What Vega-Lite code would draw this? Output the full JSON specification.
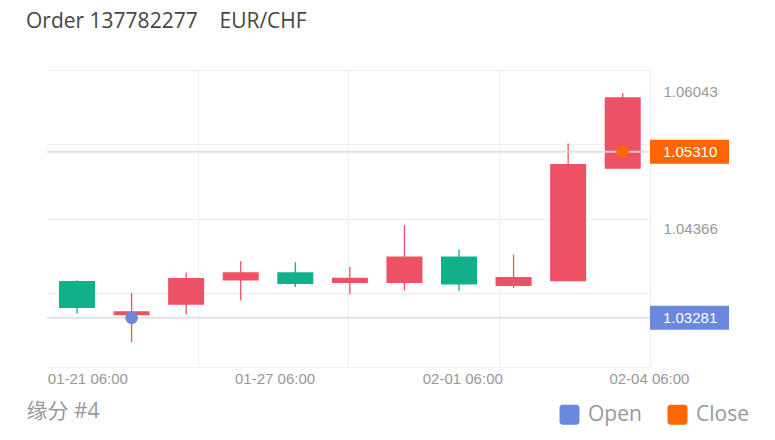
{
  "$schema": "https://vega.github.io/schema/vega-lite/v6.json",
  "width": 603,
  "height": 297,
  "autosize": "none",
  "padding": {"left": 47, "top": 70, "right": 125, "bottom": 73},
  "background": "#ffffff",
  "view": {"stroke": null},
  "title": {
    "text": "Order 137782277\u00a0\u00a0\u00a0\u00a0EUR/CHF",
    "anchor": "start",
    "frame": "group",
    "dx": -21,
    "offset": 31,
    "font": "Open Sans",
    "fontSize": 21,
    "fontWeight": "normal",
    "color": "#464646"
  },
  "datasets": {
    "candles": [
      {"t": 0, "open": 1.03730, "high": 1.03738, "low": 1.03331, "close": 1.03399},
      {"t": 1, "open": 1.03310, "high": 1.03583, "low": 1.02983, "close": 1.03359},
      {"t": 2, "open": 1.03441, "high": 1.03833, "low": 1.03322, "close": 1.03766},
      {"t": 3, "open": 1.03735, "high": 1.03971, "low": 1.03493, "close": 1.03836},
      {"t": 4, "open": 1.03836, "high": 1.03959, "low": 1.03656, "close": 1.03693},
      {"t": 5, "open": 1.03705, "high": 1.03901, "low": 1.03567, "close": 1.03771},
      {"t": 6, "open": 1.03705, "high": 1.04411, "low": 1.03616, "close": 1.04028},
      {"t": 7, "open": 1.04028, "high": 1.04114, "low": 1.03607, "close": 1.03686},
      {"t": 8, "open": 1.03668, "high": 1.04053, "low": 1.03644, "close": 1.03779},
      {"t": 9, "open": 1.03726, "high": 1.05411, "low": 1.03726, "close": 1.05158},
      {"t": 10, "open": 1.05101, "high": 1.06025, "low": 1.05101, "close": 1.05974}
    ],
    "marks": [
      {"kind": "Open", "t": 1, "price": 1.03281},
      {"kind": "Close", "t": 10, "price": 1.05310}
    ]
  },
  "layer": [
    {
      "data": {"name": "candles"},
      "mark": {"type": "rule", "strokeWidth": 1.3},
      "encoding": {
        "x": {
          "field": "t",
          "type": "quantitative",
          "title": "缘分 #4",
          "scale": {"domain": [-0.55, 10.5], "nice": false, "zero": false, "padding": 0},
          "axis": {
            "values": [2.2125, 4.975, 7.7375, 10.5, 0.19, 3.62, 7.06, 10.48],
            "labelExpr": "datum.value == 0.19 ? '01-21 06:00' : datum.value == 3.62 ? '01-27 06:00' : datum.value == 7.06 ? '02-01 06:00' : datum.value == 10.48 ? '02-04 06:00' : ''",
            "grid": true,
            "gridColor": "#efefef",
            "gridWidth": 1,
            "gridOpacity": {"condition": {"test": "datum.value == 0.19 || datum.value == 3.62 || datum.value == 7.06 || datum.value == 10.48", "value": 0}, "value": 1},
            "domain": false,
            "ticks": false,
            "tickSize": 0,
            "labelFont": "Liberation Sans",
            "labelFontSize": 15,
            "labelColor": "#999999",
            "labelPadding": 4,
            "labelAlign": "center",
            "labelBaseline": "top",
            "labelOverlap": false,
            "labelBound": false,
            "labelFlush": false,
            "titleX": -21,
            "titleY": 44,
            "titleAlign": "left",
            "titleBaseline": "middle",
            "titleFont": "Open Sans, Noto Sans CJK SC",
            "titleFontSize": 21,
            "titleFontWeight": "normal",
            "titleColor": "#999999"
          }
        },
        "y": {
          "field": "low",
          "type": "quantitative",
          "title": null,
          "scale": {"domain": [1.02679, 1.06308], "nice": false, "zero": false, "padding": 0},
          "axis": {
            "orient": "right",
            "values": [1.02679, 1.035863, 1.044935, 1.054008, 1.06308, 1.04366, 1.06043],
            "labelExpr": "(datum.value == 1.04366 || datum.value == 1.06043) ? format(datum.value, '.5f') : ''",
            "grid": true,
            "gridColor": "#efefef",
            "gridWidth": 1,
            "gridOpacity": {"condition": {"test": "datum.value == 1.04366 || datum.value == 1.06043", "value": 0}, "value": 1},
            "domain": false,
            "ticks": false,
            "tickSize": 0,
            "labelPadding": 13,
            "labelFont": "Liberation Sans",
            "labelFontSize": 15,
            "labelColor": "#999999",
            "labelAlign": "left",
            "labelBaseline": "middle",
            "labelOverlap": false,
            "labelBound": false,
            "labelFlush": false
          }
        },
        "y2": {"field": "high"},
        "color": {"condition": {"test": "datum.close > datum.open", "value": "#EC5166"}, "value": "#10B08A"}
      }
    },
    {
      "data": {"name": "candles"},
      "mark": {"type": "bar"},
      "encoding": {
        "x": {"field": "t", "type": "quantitative", "title": "缘分 #4"},
        "y": {"field": "open", "type": "quantitative", "title": null},
        "y2": {"field": "close"},
        "size": {"value": 36},
        "color": {"condition": {"test": "datum.close > datum.open", "value": "#EC5166"}, "value": "#10B08A"}
      }
    },
    {
      "data": {"name": "marks"},
      "mark": {"type": "rule", "strokeWidth": 2, "color": "#dddddd", "opacity": 0.85},
      "encoding": {
        "y": {"field": "price", "type": "quantitative", "title": null}
      }
    },
    {
      "data": {"name": "marks"},
      "mark": {"type": "point", "shape": "circle", "filled": true, "size": 160, "opacity": 1},
      "encoding": {
        "x": {"field": "t", "type": "quantitative", "title": "缘分 #4"},
        "y": {"field": "price", "type": "quantitative", "title": null},
        "color": {
          "field": "kind",
          "type": "nominal",
          "scale": {"domain": ["Open", "Close"], "range": ["#6A88DE", "#FF6600"]},
          "legend": {
            "orient": "none",
            "legendX": 512,
            "legendY": 334,
            "direction": "horizontal",
            "title": null,
            "symbolType": "M-0.7,-1H0.7A0.3,0.3,0,0,1,1,-0.7V0.7A0.3,0.3,0,0,1,0.7,1H-0.7A0.3,0.3,0,0,1,-1,0.7V-0.7A0.3,0.3,0,0,1,-0.7,-1Z",
            "symbolSize": 400,
            "symbolStrokeWidth": 0,
            "symbolOpacity": 1,
            "labelFont": "Open Sans",
            "labelFontSize": 21,
            "labelColor": "#999999",
            "labelOffset": 8,
            "columnPadding": 25,
            "padding": 0
          }
        }
      }
    },
    {
      "data": {"name": "marks"},
      "mark": {"type": "bar", "clip": false},
      "encoding": {
        "x": {"datum": 10.5, "type": "quantitative", "title": "缘分 #4"},
        "x2": {"datum": 11.948},
        "y": {"field": "price", "type": "quantitative", "title": null},
        "size": {"value": 24},
        "color": {"field": "kind", "type": "nominal", "legend": null}
      }
    },
    {
      "data": {"name": "marks"},
      "mark": {"type": "text", "align": "left", "baseline": "middle", "dx": 13, "color": "#ffffff", "font": "Liberation Sans", "fontSize": 15, "clip": false},
      "encoding": {
        "x": {"datum": 10.5, "type": "quantitative", "title": "缘分 #4"},
        "y": {"field": "price", "type": "quantitative", "title": null},
        "text": {"field": "price", "type": "quantitative", "format": ".5f"}
      }
    }
  ]
}
